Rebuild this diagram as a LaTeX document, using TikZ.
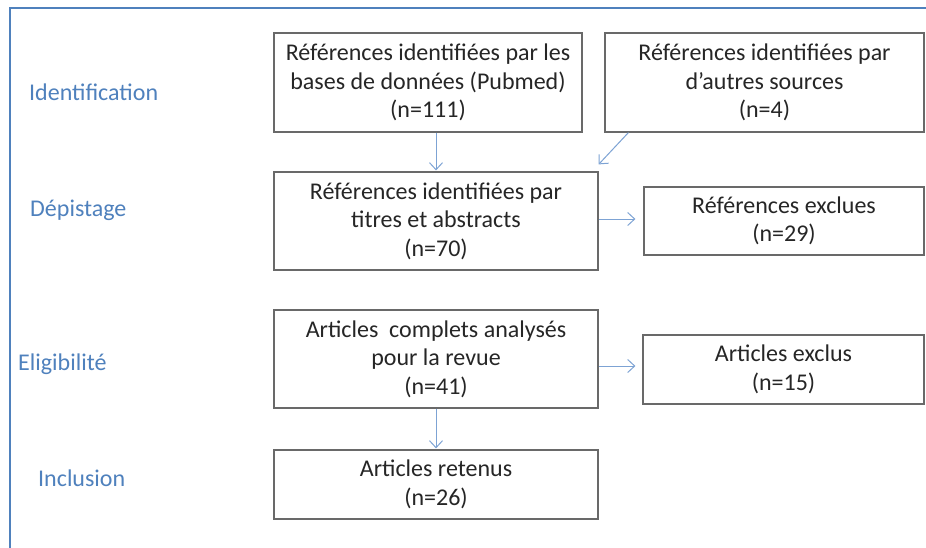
\documentclass[tikz,border=0pt]{standalone}
\usepackage{fontspec}
\setmainfont{Carlito}
\usetikzlibrary{arrows.meta,calc}
\definecolor{etapebleu}{RGB}{79,129,189}
\definecolor{flechebleu}{RGB}{125,163,212}
\definecolor{bordgris}{RGB}{105,105,105}
\definecolor{textegris}{RGB}{38,38,38}
\tikzset{
	boite/.style={draw=bordgris, line width=1.2pt, text=textegris, align=center, inner sep=0pt, font=\fontsize{24}{28.5}\selectfont},
	etape/.style={anchor=base west, text=etapebleu, inner sep=0pt, font=\fontsize{24}{28.5}\selectfont},
	fleche/.style={draw=flechebleu, line width=1pt, -{Straight Barb[length=7pt,width=13pt]}},
}

\begin{document}
\begin{tikzpicture}[x=1pt, y=-1pt]
			%%%%% START %%%%%
			\clip (0,0) rectangle (926,547);
			\fill[white] (0,0) rectangle (926,547);
			\draw[etapebleu, line width=2pt] (10,560) -- (10,8) -- (940,8);
			
			\node[etape] (ident) at (29,100) {Identification};
			\node[etape] (depist) at (30,216) {Dépistage};
			\node[etape] (eligib) at (18,370) {Eligibilité};
			\node[etape] (inclus) at (38,486) {Inclusion};
			
			\node[boite, minimum width=308pt, minimum height=99pt] (base) at (428,82.5) {Références identifiées par les\\bases de données (Pubmed)\\(n=111)};
			\node[boite, minimum width=319pt, minimum height=99pt] (autres) at (764.5,82.5) {Références identifiées par\\d’autres sources\\(n=4)};
			
			\node[boite, minimum width=324pt, minimum height=98pt] (titres) at (436,221) {Références identifiées par\\titres et abstracts\\(n=70)};
			\node[boite, minimum width=280pt, minimum height=68pt] (exclues) at (784,221) {Références exclues\\(n=29)};
			
			\node[boite, minimum width=324pt, minimum height=98pt] (complets) at (436,359) {Articles~ complets analysés\\pour la revue\\(n=41)};
			\node[boite, minimum width=281pt, minimum height=69pt] (exclus) at (783.5,369.5) {Articles exclus\\(n=15)};
			
			\node[boite, minimum width=324pt, minimum height=69pt] (retenus) at (436,484.5) {Articles retenus\\(n=26)};
			
			\draw[fleche, shorten >=1pt] (base.south -| titres.north) -- (titres.north);
			\draw[fleche] ($(autres.south west)+(24,0)$) -- ($(titres.north east)+(0,-7)$);
			\draw[fleche, shorten >=8pt] ($(titres.east)+(0,-2)$) coordinate (t1) -- (t1 -| exclues.west);
			\draw[fleche, shorten >=7pt] ($(complets.east)+(0,7)$) coordinate (c1) -- (c1 -| exclus.west);
			\draw[fleche, shorten >=1pt] (complets.south) -- (retenus.north);
			%%%%% END %%%%%
\end{tikzpicture}
\end{document}
